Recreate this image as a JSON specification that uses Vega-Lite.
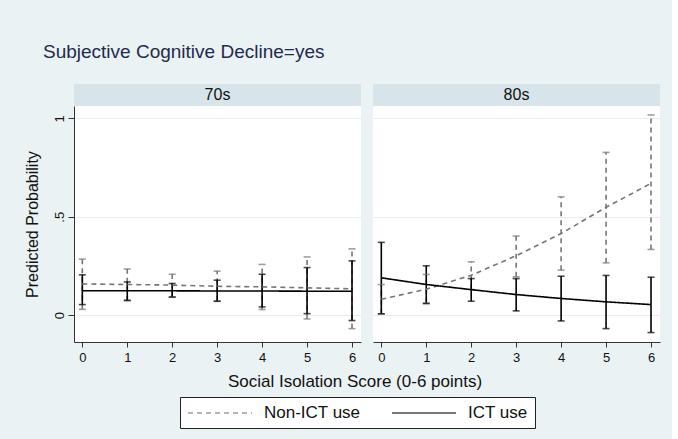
{
  "$schema": "https://vega.github.io/schema/vega-lite/v6.json",
  "background": "#EAF2F3",
  "padding": {"left": 24, "top": 43, "right": 12, "bottom": 12},
  "title": {"text": "Subjective Cognitive Decline=yes", "anchor": "start", "fontSize": 19, "fontWeight": "normal", "color": "#1F2B4E", "font": "Liberation Sans", "offset": 22, "dx": 19},
  "config": {
    "font": "Liberation Sans",
    "view": {"stroke": null, "fill": "white"},
    "axis": {"labelFont": "Liberation Sans", "titleFont": "Liberation Sans", "labelColor": "#111", "titleColor": "#111", "tickColor": "#333", "domainColor": "#333", "gridColor": "#E6EEF1", "titleFontWeight": "normal"},
    "legend": {"labelFont": "Liberation Sans", "title": null, "orient": "none", "legendX": 106, "legendY": 313, "direction": "horizontal", "symbolType": "M-1,0H7", "symbolSize": 256, "symbolStrokeWidth": 1.4, "labelFontSize": 17, "labelColor": "#111", "labelOffset": 59, "columnPadding": 28, "strokeColor": "#222", "fillColor": "white", "padding": 7}
  },
  "datasets": {
    "est": [
      {"age": "70s", "group": "Non-ICT use", "x": 0, "p": 0.159, "lo": 0.030, "hi": 0.285},
      {"age": "70s", "group": "Non-ICT use", "x": 1, "p": 0.156, "lo": 0.073, "hi": 0.235},
      {"age": "70s", "group": "Non-ICT use", "x": 2, "p": 0.153, "lo": 0.093, "hi": 0.208},
      {"age": "70s", "group": "Non-ICT use", "x": 3, "p": 0.147, "lo": 0.071, "hi": 0.224},
      {"age": "70s", "group": "Non-ICT use", "x": 4, "p": 0.144, "lo": 0.029, "hi": 0.258},
      {"age": "70s", "group": "Non-ICT use", "x": 5, "p": 0.139, "lo": -0.019, "hi": 0.296},
      {"age": "70s", "group": "Non-ICT use", "x": 6, "p": 0.134, "lo": -0.068, "hi": 0.337},
      {"age": "80s", "group": "Non-ICT use", "x": 0, "p": 0.081, "lo": 0.007, "hi": 0.156},
      {"age": "80s", "group": "Non-ICT use", "x": 1, "p": 0.132, "lo": 0.062, "hi": 0.207},
      {"age": "80s", "group": "Non-ICT use", "x": 2, "p": 0.203, "lo": 0.130, "hi": 0.271},
      {"age": "80s", "group": "Non-ICT use", "x": 3, "p": 0.302, "lo": 0.195, "hi": 0.402},
      {"age": "80s", "group": "Non-ICT use", "x": 4, "p": 0.415, "lo": 0.229, "hi": 0.601},
      {"age": "80s", "group": "Non-ICT use", "x": 5, "p": 0.548, "lo": 0.266, "hi": 0.827},
      {"age": "80s", "group": "Non-ICT use", "x": 6, "p": 0.670, "lo": 0.334, "hi": 1.017},
      {"age": "70s", "group": "ICT use", "x": 0, "p": 0.124, "lo": 0.054, "hi": 0.205},
      {"age": "70s", "group": "ICT use", "x": 1, "p": 0.124, "lo": 0.076, "hi": 0.169},
      {"age": "70s", "group": "ICT use", "x": 2, "p": 0.124, "lo": 0.092, "hi": 0.161},
      {"age": "70s", "group": "ICT use", "x": 3, "p": 0.123, "lo": 0.071, "hi": 0.178},
      {"age": "70s", "group": "ICT use", "x": 4, "p": 0.123, "lo": 0.042, "hi": 0.208},
      {"age": "70s", "group": "ICT use", "x": 5, "p": 0.122, "lo": 0.008, "hi": 0.242},
      {"age": "70s", "group": "ICT use", "x": 6, "p": 0.122, "lo": -0.027, "hi": 0.276},
      {"age": "80s", "group": "ICT use", "x": 0, "p": 0.190, "lo": 0.007, "hi": 0.370},
      {"age": "80s", "group": "ICT use", "x": 1, "p": 0.156, "lo": 0.059, "hi": 0.251},
      {"age": "80s", "group": "ICT use", "x": 2, "p": 0.130, "lo": 0.071, "hi": 0.186},
      {"age": "80s", "group": "ICT use", "x": 3, "p": 0.105, "lo": 0.022, "hi": 0.186},
      {"age": "80s", "group": "ICT use", "x": 4, "p": 0.085, "lo": -0.029, "hi": 0.198},
      {"age": "80s", "group": "ICT use", "x": 5, "p": 0.068, "lo": -0.068, "hi": 0.202},
      {"age": "80s", "group": "ICT use", "x": 6, "p": 0.054, "lo": -0.088, "hi": 0.193}
    ]
  },
  "spacing": 9,
  "vconcat": [
    {
      "spacing": 12,
      "hconcat": [
        {
          "bounds": "flush",
          "spacing": 0,
          "vconcat": [
            {
              "width": 287, "height": 22,
              "view": {"fill": "#D7E4EA", "stroke": null},
              "data": {"values": [{"t": "70s"}]},
              "mark": {"type": "text", "fontSize": 16, "color": "#111"},
              "encoding": {"text": {"field": "t"}}
            },
            {
              "width": 287, "height": 236,
              "data": {"name": "est"},
              "transform": [{"filter": "datum.age == '70s'"}],
              "encoding": {
                "x": {"field": "x", "type": "quantitative", "scale": {"domain": [-0.185, 6.2], "nice": false, "zero": false},
                      "axis": {"values": [0, 1, 2, 3, 4, 5, 6], "title": null, "grid": false, "tickSize": 5, "labelFontSize": 13, "labelPadding": 4}},
                "color": {"field": "group", "type": "nominal", "scale": {"domain": ["Non-ICT use", "ICT use"], "range": ["#767676", "#000000"]}}
              },
              "layer": [
                {
                  "mark": {"type": "rule", "strokeWidth": 1.6},
                  "encoding": {
                    "y": {"field": "lo", "type": "quantitative", "scale": {"domain": [-0.136, 1.0625], "nice": false, "zero": false},
                          "axis": {"values": [0, 0.5, 1], "title": "Predicted Probability", "titleFontSize": 16, "labelFontSize": 13, "labelAngle": -90, "labelExpr": "datum.value == 0.5 ? '.5' : toString(datum.value)", "tickSize": 6, "grid": true, "titlePadding": 13}},
                    "y2": {"field": "hi"},
                    "strokeDash": {"field": "group", "type": "nominal", "scale": {"domain": ["Non-ICT use", "ICT use"], "range": [[5, 4], [1, 0]]}}
                  }
                },
                {
                  "mark": {"type": "tick", "orient": "horizontal", "size": 7, "thickness": 1.6},
                  "encoding": {"y": {"field": "lo", "type": "quantitative"}}
                },
                {
                  "mark": {"type": "tick", "orient": "horizontal", "size": 7, "thickness": 1.6},
                  "encoding": {"y": {"field": "hi", "type": "quantitative"}}
                },
                {
                  "mark": {"type": "line", "strokeWidth": 1.6},
                  "encoding": {
                    "y": {"field": "p", "type": "quantitative"},
                    "strokeDash": {"field": "group", "type": "nominal"}
                  }
                }
              ]
            }
          ]
        },
        {
          "bounds": "flush",
          "spacing": 0,
          "vconcat": [
            {
              "width": 287, "height": 22,
              "view": {"fill": "#D7E4EA", "stroke": null},
              "data": {"values": [{"t": "80s"}]},
              "mark": {"type": "text", "fontSize": 16, "color": "#111"},
              "encoding": {"text": {"field": "t"}}
            },
            {
              "width": 287, "height": 236,
              "data": {"name": "est"},
              "transform": [{"filter": "datum.age == '80s'"}],
              "encoding": {
                "x": {"field": "x", "type": "quantitative", "scale": {"domain": [-0.185, 6.2], "nice": false, "zero": false},
                      "axis": {"values": [0, 1, 2, 3, 4, 5, 6], "title": null, "grid": false, "tickSize": 5, "labelFontSize": 13, "labelPadding": 4}},
                "color": {"field": "group", "type": "nominal"}
              },
              "layer": [
                {
                  "mark": {"type": "rule", "strokeWidth": 1.6},
                  "encoding": {
                    "y": {"field": "lo", "type": "quantitative", "scale": {"domain": [-0.136, 1.0625], "nice": false, "zero": false},
                          "axis": {"values": [0, 0.5, 1], "title": null, "labels": false, "ticks": false, "domain": false, "grid": true}},
                    "y2": {"field": "hi"},
                    "strokeDash": {"field": "group", "type": "nominal"}
                  }
                },
                {
                  "mark": {"type": "tick", "orient": "horizontal", "size": 7, "thickness": 1.6},
                  "encoding": {"y": {"field": "lo", "type": "quantitative"}}
                },
                {
                  "mark": {"type": "tick", "orient": "horizontal", "size": 7, "thickness": 1.6},
                  "encoding": {"y": {"field": "hi", "type": "quantitative"}}
                },
                {
                  "mark": {"type": "line", "strokeWidth": 1.6},
                  "encoding": {
                    "y": {"field": "p", "type": "quantitative"},
                    "strokeDash": {"field": "group", "type": "nominal"}
                  }
                }
              ]
            }
          ]
        }
      ]
    },
    {
      "width": 562, "height": 16,
      "view": {"fill": null, "stroke": null},
      "data": {"values": [{"t": "Social Isolation Score (0-6 points)"}]},
      "mark": {"type": "text", "fontSize": 17, "color": "#111"},
      "encoding": {"text": {"field": "t"}}
    }
  ]
}
